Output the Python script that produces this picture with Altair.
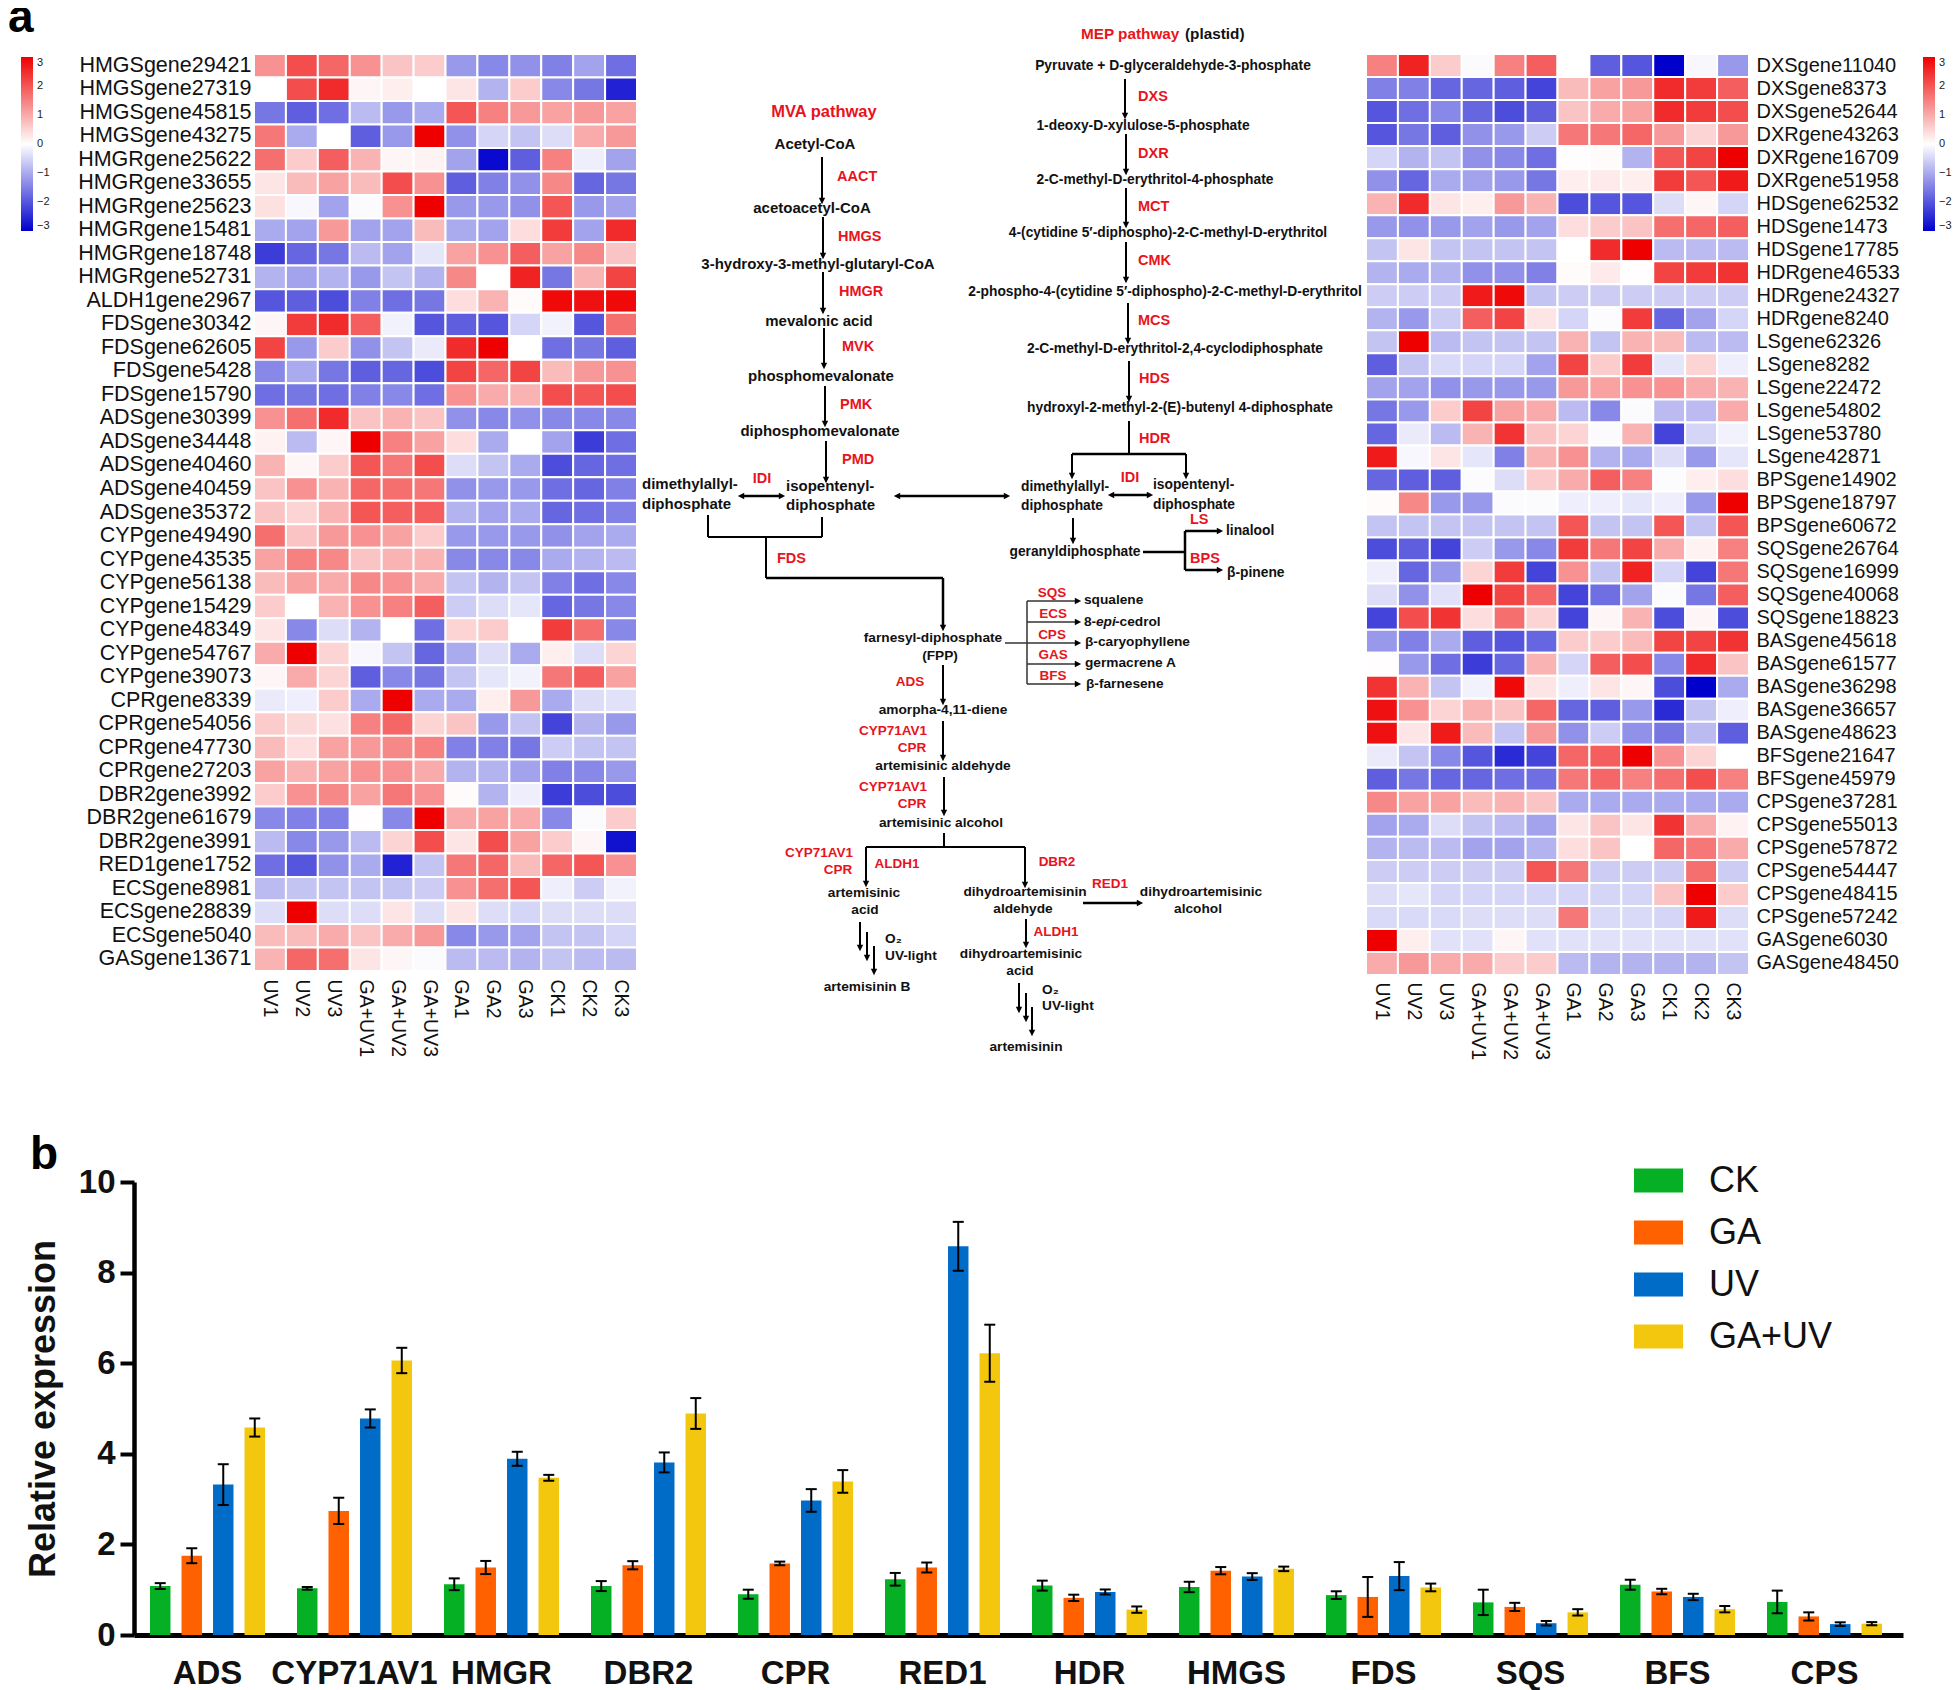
import altair as alt
import pandas as pd

conditions = ["UV1","UV2","UV3","GA+UV1","GA+UV2","GA+UV3","GA1","GA2","GA3","CK1","CK2","CK3"]

left_genes = ["HMGSgene29421","HMGSgene27319","HMGSgene45815","HMGSgene43275","HMGRgene25622","HMGRgene33655","HMGRgene25623","HMGRgene15481","HMGRgene18748","HMGRgene52731","ALDH1gene2967","FDSgene30342","FDSgene62605","FDSgene5428","FDSgene15790","ADSgene30399","ADSgene34448","ADSgene40460","ADSgene40459","ADSgene35372","CYPgene49490","CYPgene43535","CYPgene56138","CYPgene15429","CYPgene48349","CYPgene54767","CYPgene39073","CPRgene8339","CPRgene54056","CPRgene47730","CPRgene27203","DBR2gene3992","DBR2gene61679","DBR2gene3991","RED1gene1752","ECSgene8981","ECSgene28839","ECSgene5040","GASgene13671"]
left_values = [
[1.3,2.1,1.8,1.3,.7,.6,-1.2,-1.4,-1.3,-1.5,-1.1,-1.7],
[0,2.1,2.5,.1,.2,0,.3,-.9,.6,-1.4,-1.6,-2.6],
[-1.6,-1.9,-1.7,-.8,-1.2,-1,2.0,1.5,1.2,1.1,1.2,1.1],
[1.6,-1,0,-1.9,-1.2,3,-1.3,-.5,-.7,-.4,1,1.2],
[1.7,.6,1.9,.9,.1,.15,-1.1,-2.9,-1.9,1.5,-.2,-1.1],
[.3,.8,1.1,.8,2.1,1.3,-1.9,-1.5,-1.3,1.4,-1.8,-1.6],
[.35,-.1,-1.1,-.05,1.3,3,-1.2,-1.2,-1.3,2.0,-1.2,-1.1],
[-1,-1.1,1.2,-1.1,-1.1,.8,-1,-1.1,.4,2.3,-1.1,2.5],
[-2.3,-1.8,-1.6,-.8,-1.1,-.3,1.1,1.3,1.9,1.1,1.4,.7],
[-.9,-1.1,-.9,-1.2,-.7,-.9,1.4,0,2.6,-1.6,.9,2.2],
[-2.0,-1.9,-2.1,-1.5,-1.7,-1.6,.4,.9,.05,2.9,2.8,2.9],
[.1,2.3,2.5,1.9,-.15,-2,-1.9,-2,-.5,-.15,-2,1.7],
[2.2,-1.2,.6,-1.3,-.7,-.25,2.5,3,0,-1.7,-1.6,-1.9],
[-1.4,-1,-1.6,-1.9,-1.8,-2.1,2.2,1.8,2.2,.8,1.2,1.3],
[-1.7,-1.6,-1.7,-1.5,-1.4,-1.7,1.3,1,.9,2.1,2,2.1],
[1.3,1.7,2.5,.7,.9,.7,-1.3,-1.4,-1.3,-1.4,-1.4,-1.4],
[.15,-.8,.1,3,1.5,1.1,.4,-1,0,-1.1,-2.3,-1.7],
[.9,.1,.6,2,1.6,2.1,-.4,-.7,-1,-2.1,-1.8,-1.7],
[.7,1.3,.9,1.8,1.7,1.6,-1.3,-1.2,-1.2,-1.7,-1.8,-1.5],
[.7,.5,.9,2,1.9,1.9,-.9,-1.1,-1,-1.8,-1.7,-1.5],
[1.7,.7,1.2,1.3,1.1,.6,-1.2,-1.2,-1.2,-1.3,-1.1,-1],
[1.1,1.5,1.4,.7,.9,.9,-1.4,-1.4,-1.4,-1,-.9,-.8],
[.8,1.1,1,1.4,1.3,1,-.7,-.9,-.7,-1.5,-1.7,-1.4],
[.6,0,.9,1.3,1.5,1.9,-.6,-.4,-.3,-1.8,-1.6,-1.4],
[.3,-1.4,-.4,-.9,0,-1.7,.5,.6,0,2.3,1.7,-1.4],
[1,3,.5,-.1,-.7,-1.8,-1,-.4,-1,.2,-.4,.5],
[.1,1,.5,-1.9,-1.4,-1.6,-.7,-.3,-.15,1.6,1.9,1.1],
[-.25,-.2,.6,-1,3,-1,-1,.2,1.2,-1,-.4,-.35],
[.6,.45,.35,1.5,1.8,.5,.7,-1.2,-.7,-2.2,-.9,-1.2],
[.8,.4,1.1,1.2,1.4,1.5,-1.5,-1.5,-1.6,-.6,-.7,-.7],
[1.1,.9,1.1,1.3,1.3,1,-.9,-.9,-1.1,-1.5,-1.4,-1.2],
[.6,1.3,1.4,1.1,1.6,1.3,.05,-.9,-.2,-2.3,-2.1,-2.1],
[-1.4,-1.5,-1.5,.02,-1.4,3,1,1.1,1,-1.4,-.05,.6],
[-.8,-1.4,-1.2,-.8,.5,2.1,.3,2.1,1.1,.6,.1,-2.8],
[-1.7,-2,-1.3,-1,-2.6,-.7,1.6,1.8,.8,1.8,2,1.3],
[-.8,-.7,-.7,-.7,-.7,-.6,1.3,1.7,2,-.2,-.6,-.15],
[-.4,3,-.4,-.4,.3,-.4,.3,-.4,-.5,-.4,-.4,-.4],
[.8,.8,1,.7,1,1.2,-1.4,-1.2,-1.1,-.7,-.7,-.5],
[.9,1.8,1.7,.3,.1,-.05,-.8,-.8,-.9,-.7,-.8,-.8],
]

right_genes = ["DXSgene11040","DXSgene8373","DXSgene52644","DXRgene43263","DXRgene16709","DXRgene51958","HDSgene62532","HDSgene1473","HDSgene17785","HDRgene46533","HDRgene24327","HDRgene8240","LSgene62326","LSgene8282","LSgene22472","LSgene54802","LSgene53780","LSgene42871","BPSgene14902","BPSgene18797","BPSgene60672","SQSgene26764","SQSgene16999","SQSgene40068","SQSgene18823","BASgene45618","BASgene61577","BASgene36298","BASgene36657","BASgene48623","BFSgene21647","BFSgene45979","CPSgene37281","CPSgene55013","CPSgene57872","CPSgene54447","CPSgene48415","CPSgene57242","GASgene6030","GASgene48450"]
right_values = [
[1.5,2.6,.6,-.05,1.5,1.9,0,-1.9,-2,-3,-.1,-1.2],
[-1.5,-1.5,-1.8,-1.8,-1.9,-2.2,.8,1.1,1.2,2.5,2.3,1.9],
[-2.0,-1.7,-1.4,-1.8,-2.1,-1.9,.7,1,1.1,2.5,2.3,2.1],
[-2,-1.6,-1.9,-1.3,-1.2,-.6,1.6,1.6,1.8,1.2,.5,1.2],
[-.5,-.9,-.7,-1.3,-1.4,-1.7,.02,.05,-.9,2,2.2,3],
[-1.3,-1.8,-1,-1.1,-1.2,-1.6,.2,.25,.2,2.3,2,2.7],
[.9,2.5,.3,.2,1.2,.9,-2.1,-2,-2,-.4,.1,-.5],
[-1.2,-1.3,-1.2,-1.1,-1.2,-1.1,.4,.6,.7,1.7,1.8,1.9],
[-.7,.3,-.7,-.7,-.7,-.7,0,2.5,3,-.8,-.8,-.8],
[-.9,-1,-.9,-1.3,-1.3,-1.5,.05,.25,.02,2.2,2.3,2.4],
[-.6,-.6,-.6,2.7,2.9,-.7,-.6,-.6,-.6,-.6,-.6,-.6],
[-.9,-1.2,-.6,1.9,2.2,.3,-.5,-.03,2.3,-1.8,-1.1,-.5],
[-.7,3,-.8,-.7,-.7,-.7,.9,-.7,.9,.8,-.8,-.8],
[-1.9,-.7,-.45,-.5,-.5,-1.1,2.2,.6,2.3,-.3,.5,-.2],
[-1.1,-1.1,-1.3,-1.2,-1.2,-1.2,1.2,1.1,1.3,1.3,1,.9],
[-1.6,-1.2,.6,2.2,1.1,1,-.8,-1.4,-.05,-.8,-.8,1],
[-1.8,-.25,-.8,.9,2.4,.7,.5,-.05,.9,-2.2,-.5,-.15],
[2.7,-.1,.3,-.3,-1.5,.9,1.3,-.9,-1,-.4,-1.2,-.3],
[-1.8,-1.9,-1.9,-.03,-.4,.6,1,1.9,1.5,-.03,.2,.4],
[.05,1.4,-1.2,-1.2,-.05,-.05,-.2,-.2,-.3,-.2,-1.2,3],
[-.7,-.7,-.7,-.7,-.7,-.7,2,-.7,-.7,2,-.7,2],
[-2.1,-1.9,-2.2,-.6,-1.2,-1.4,2.3,1.6,2.2,1,.15,1.5],
[-.2,-1.8,-1.2,.5,2.3,-2.2,1.3,-.7,2.6,-.5,-2.2,1.6],
[-.4,-1.3,-.35,3,2.2,1.8,-2.2,-1.7,-1.1,-.05,-1.6,1.9],
[-2.2,2.1,2.4,.4,1.7,.5,-2.2,.1,.9,-2.1,.1,-2.1],
[-1.2,-1.5,-1,-1.9,-2,-1.8,.6,.6,.8,2.2,2.2,2.4],
[.02,-1.2,-1.7,-2.3,-1.8,.9,-.5,1.9,2.1,-1.4,2.5,.7],
[2.4,.9,-.7,-.15,2.9,.3,-.2,.3,.1,-2.1,-3,-1],
[2.8,1.3,.5,.9,.7,1.8,-1.8,-1.9,-1.2,-2.5,-.7,-.2],
[2.8,.3,2.7,.8,-.7,1.2,-1.3,-.6,-1.3,-1.6,-.8,-1.9],
[-.25,-.7,-1.4,-2,-2.5,-2.2,1.8,1.9,3,1.3,.5,0],
[-1.9,-1.6,-1.8,-1.8,-1.7,-1.7,1.6,1.8,1.5,1.7,2.1,1.5],
[1.4,1.1,1.1,.8,.9,.7,-1,-1,-1,-1,-1,-1],
[-1.1,-1,-.4,-.7,-.8,-1.1,.3,.7,.3,2.4,1,.15],
[-.9,-.8,-.8,-1.1,-1.1,-.9,.4,.7,0,1.8,1.6,1],
[-.6,-.6,-.6,-.6,-.6,2,1.6,-.6,-.6,-.6,1.7,-.6],
[-.4,-.3,-.5,-.5,-.5,-.5,-.5,-.5,-.5,.7,3,.6],
[-.45,-.45,-.45,-.4,-.4,-.4,1.6,-.45,-.45,-.5,2.7,-.4],
[3,.2,-.35,-.35,.1,-.35,-.35,-.35,-.35,-.35,-.35,-.35],
[1,1.2,1,1,.6,.6,-.8,-.9,-.9,-.9,-.9,-.7],
]

genes = ["ADS","CYP71AV1","HMGR","DBR2","CPR","RED1","HDR","HMGS","FDS","SQS","BFS","CPS"]
treatments = ["CK","GA","UV","GA+UV"]
ck_mean  = [1.08,1.03,1.12,1.08,.90,1.23,1.09,1.06,.88,.72,1.11,.73]
ck_err   = [.065,.03,.13,.11,.10,.14,.11,.115,.085,.28,.11,.25]
ga_mean  = [1.75,2.74,1.49,1.54,1.58,1.49,.82,1.42,.84,.62,.96,.41]
ga_err   = [.165,.29,.145,.09,.04,.11,.07,.08,.44,.09,.06,.09]
uv_mean  = [3.32,4.78,3.89,3.81,2.97,8.58,.95,1.29,1.30,.26,.84,.24]
uv_err   = [.45,.20,.155,.22,.25,.54,.055,.075,.31,.05,.07,.04]
gu_mean  = [4.58,6.06,3.47,4.89,3.39,6.22,.56,1.46,1.05,.50,.57,.25]
gu_err   = [.20,.28,.065,.34,.25,.63,.07,.05,.085,.07,.07,.035]

# pathway diagram: label, x, y, style, align
pathway_labels = [
("a",8,32,"panel","left"),
("MVA pathway",824,112,"title_red","center"),
("MEP pathway",1081,34,"head_red","left"),("(plastid)",1185,34,"head_black","left"),
("Acetyl-CoA",815,144,"mb","center"),("AACT",837,177,"nr","left"),
("acetoacetyl-CoA",812,208,"mb","center"),("HMGS",838,237,"nr","left"),
("3-hydroxy-3-methyl-glutaryl-CoA",818,264,"mb","center"),("HMGR",839,292,"nr","left"),
("mevalonic acid",819,321,"mb","center"),("MVK",842,347,"nr","left"),
("phosphomevalonate",821,376,"mb","center"),("PMK",840,405,"nr","left"),
("diphosphomevalonate",820,431,"mb","center"),("PMD",842,460,"nr","left"),
("dimethylallyl-",642,484,"mb","left"),("diphosphate",642,504,"mb","left"),
("IDI",762,479,"nr","center"),("isopentenyl-",786,486,"mb","left"),("diphosphate",786,505,"mb","left"),
("FDS",777,559,"nr","left"),
("Pyruvate + D-glyceraldehyde-3-phosphate",1173,66,"nb","center"),("DXS",1138,97,"nr","left"),
("1-deoxy-D-xylulose-5-phosphate",1143,126,"nb","center"),("DXR",1138,154,"nr","left"),
("2-C-methyl-D-erythritol-4-phosphate",1155,180,"nb","center"),("MCT",1138,207,"nr","left"),
("4-(cytidine 5′-diphospho)-2-C-methyl-D-erythritol",1168,233,"nb","center"),("CMK",1138,261,"nr","left"),
("2-phospho-4-(cytidine 5′-diphospho)-2-C-methyl-D-erythritol",1165,292,"nb","center"),("MCS",1138,321,"nr","left"),
("2-C-methyl-D-erythritol-2,4-cyclodiphosphate",1175,349,"nb","center"),("HDS",1139,379,"nr","left"),
("hydroxyl-2-methyl-2-(E)-butenyl 4-diphosphate",1180,408,"nb","center"),("HDR",1139,439,"nr","left"),
("dimethylallyl-",1021,487,"nb","left"),("diphosphate",1021,506,"nb","left"),
("IDI",1130,478,"nr","center"),("isopentenyl-",1153,485,"nb","left"),("diphosphate",1153,505,"nb","left"),
("LS",1190,520,"nr","left"),("linalool",1226,531,"nb","left"),
("geranyldiphosphate",1075,552,"nb","center"),("BPS",1190,559,"nr","left"),("β-pinene",1227,573,"nb","left"),
("SQS",1052,593,"sr","center"),("squalene",1084,600,"sb","left"),
("ECS",1053,614,"sr","center"),("8-",1084,622,"sb","left"),("epi",1096,622,"si","left"),("-cedrol",1115,622,"sb","left"),
("CPS",1052,635,"sr","center"),("β-caryophyllene",1085,642,"sb","left"),
("GAS",1053,655,"sr","center"),("germacrene A",1085,663,"sb","left"),
("BFS",1053,676,"sr","center"),("β-farnesene",1086,684,"sb","left"),
("farnesyl-diphosphate",933,638,"sb","center"),("(FPP)",940,656,"sb","center"),
("ADS",910,682,"sr","center"),("amorpha-4,11-diene",943,710,"sb","center"),
("CYP71AV1",893,731,"sr","center"),("CPR",912,748,"sr","center"),("artemisinic aldehyde",943,766,"sb","center"),
("CYP71AV1",893,787,"sr","center"),("CPR",912,804,"sr","center"),("artemisinic alcohol",941,823,"sb","center"),
("CYP71AV1",819,853,"sr","center"),("CPR",838,870,"sr","center"),("ALDH1",897,864,"sr","center"),("DBR2",1057,862,"sr","center"),
("artemisinic",864,893,"sb","center"),("acid",865,910,"sb","center"),
("dihydroartemisinin",1025,892,"sb","center"),("aldehyde",1023,909,"sb","center"),("RED1",1110,884,"sr","center"),
("dihydroartemisinic",1201,892,"sb","center"),("alcohol",1198,909,"sb","center"),("ALDH1",1056,932,"sr","center"),
("dihydroartemisinic",1021,954,"sb","center"),("acid",1020,971,"sb","center"),
("O₂",885,939,"sb","left"),("UV-light",885,956,"sb","left"),("artemisinin B",867,987,"sb","center"),
("O₂",1042,990,"sb","left"),("UV-light",1042,1006,"sb","left"),("artemisinin",1026,1047,"sb","center"),
]
# connector: x, y, x2, y2, line width
pathway_lines = [
(822,157,822,199,2),(823,217,823,254,2),(823,272,823,309,2),(824,328,824,364,2),(825,386,825,422,2),(826,441,826,478,2),
(1125,79,1125,114,2),(1126,134,1126,170,2),(1126,188,1126,223,2),(1126,242,1126,278,2),(1128,303,1128,339,2),(1129,361,1129,397,2),
(1129,421,1129,454,2),(1072,454,1186,454,2.5),(1072,454,1072,474,2),(1186,454,1186,474,2),
(743,496,780,496,2.5),(899,496,1005,496,2.5),(1113,495,1148,495,2.5),
(1073,518,1073,539,2),(1143,552,1185,552,2.5),(1185,531,1185,570,2.5),(1185,531,1218,531,2.5),(1185,570,1218,570,2.5),
(708,515,708,537,2),(708,537,822,537,2),(822,517,822,537,2),(766,537,766,578,2),(766,578,943,578,2.5),(943,578,943,626,2.5),
(943,665,943,700,2),(943,721,943,756,2),(944,777,944,811,2),(944,833,944,847,2),(866,847,1025,847,2),
(866,847,866,882,2),(1025,847,1025,883,2),(1083,903,1138,903,2.5),(1026,919,1026,943,2),
(860,922,860,946,2),(867,932,867,956,2),(874,946,874,970,2),(1019,983,1019,1008,2),(1026,993,1026,1017,2),(1032,1007,1032,1031,2),
(1005,643,1027,643,1.5),(1027,601,1027,684,1.5),(1027,601,1076,601,1.5),(1027,622,1076,622,1.5),(1027,643,1076,643,1.5),(1027,664,1076,664,1.5),(1027,684,1076,684,1.5),
]
heads_down = [(822,201),(823,256),(823,311),(824,366),(825,424),(826,480),(1125,116),(1126,172),(1126,225),(1126,280),(1128,341),(1129,399),(1072,476),(1186,476),(1073,541),(943,628),(943,702),(943,758),(944,813),(866,884),(1025,885),(1026,945),(860,948),(867,958),(874,972),(1019,1010),(1026,1019),(1032,1033)]
heads_right = [(782,496),(1007,496),(1150,495),(1220,531),(1220,570),(1140,903),(1078,601),(1078,622),(1078,643),(1078,664),(1078,684)]
heads_left = [(741,496),(897,496),(1111,495)]

FONT = "Liberation Sans"
RED = "#E8141C"
Y_TITLE = "Relative expression"

def heat_long(gene_names, matrix):
    rows = []
    for g, vals in zip(gene_names, matrix):
        for c, v in zip(conditions, vals):
            rows.append({"gene": g, "cond": c, "z": v})
    return pd.DataFrame(rows)

def heatmap(gene_names, matrix, w, h, orient, label_size, lx, x_pad, y_pad):
    color = alt.Color("z:Q", title=None,
        scale=alt.Scale(domain=[-3,0,3], range=["#0000CD","#FFFFFF","#EE0000"], interpolate="rgb"),
        legend=alt.Legend(orient="none", legendX=lx, legendY=3, gradientLength=174, gradientThickness=12,
                          values=[3,2,1,0,-1,-2,-3], labelFontSize=11, labelFont=FONT, labelColor="#222222",
                          labelOffset=4, gradientStrokeWidth=0, labelOverlap=False, tickCount=7))
    return alt.Chart(heat_long(gene_names, matrix)).mark_rect(stroke="white", strokeWidth=2).encode(
        x=alt.X("cond:N", sort=conditions, title=None, scale=alt.Scale(paddingInner=0, paddingOuter=0),
                axis=alt.Axis(labelAngle=90, ticks=False, domain=False, labelFont=FONT, labelFontSize=19.5,
                              labelColor="#111111", labelPadding=x_pad, labelOverlap=False, labelLimit=200)),
        y=alt.Y("gene:N", sort=gene_names, title=None, scale=alt.Scale(paddingInner=0, paddingOuter=0),
                axis=alt.Axis(orient=orient, ticks=False, domain=False, labelFont=FONT, labelFontSize=label_size,
                              labelColor="#111111", labelPadding=y_pad, labelOverlap=False, labelLimit=300)),
        color=color,
    ).properties(width=w, height=h)

left_heat = heatmap(left_genes, left_values, 383, 917, "left", 21.5, -233, 8, 3)
right_heat = heatmap(right_genes, right_values, 383, 921, "right", 20, 557, 7, 7)

# pathway diagram panel: its scales run over the figure's own coordinates
xs = alt.Scale(domain=[640,1363], nice=False, zero=False)
ys = alt.Scale(domain=[974,54], nice=False, zero=False)
styles = {
 "panel": dict(font=FONT, fontWeight="bold", fontSize=46, color="black"),
 "title_red": dict(font=FONT, fontWeight="bold", fontSize=16.5, color=RED),
 "head_red": dict(font=FONT, fontWeight="bold", fontSize=15.3, color=RED),
 "head_black": dict(font=FONT, fontWeight="bold", fontSize=15.3, color="#111111"),
 "mb": dict(font=FONT, fontWeight="bold", fontSize=15, color="#111111"),
 "nb": dict(font=FONT, fontWeight="bold", fontSize=13.8, color="#111111"),
 "nr": dict(font=FONT, fontWeight="bold", fontSize=14.5, color=RED),
 "sb": dict(font=FONT, fontWeight="bold", fontSize=13.7, color="#111111"),
 "si": dict(font=FONT, fontWeight="bold", fontStyle="italic", fontSize=13.7, color="#111111"),
 "sr": dict(font=FONT, fontWeight="bold", fontSize=13.5, color=RED),
}
lab = pd.DataFrame(pathway_labels, columns=["t","x","y","style","align"])
path_layers = []
for (st, al), sub in lab.groupby(["style","align"]):
    path_layers.append(alt.Chart(sub).mark_text(align=al, baseline="alphabetic" if st=="panel" else "middle", **styles[st]).encode(
        x=alt.X("x:Q", scale=xs, axis=None), y=alt.Y("y:Q", scale=ys, axis=None), text="t:N"))
lines = pd.DataFrame(pathway_lines, columns=["x","y","x2","y2","w"])
for w, sub in lines.groupby("w"):
    path_layers.append(alt.Chart(sub).mark_rule(color="black" if w>1.5 else "#333333", strokeWidth=float(w)).encode(
        x=alt.X("x:Q", scale=xs, axis=None), y=alt.Y("y:Q", scale=ys, axis=None), x2="x2:Q", y2="y2:Q"))
for pts, shape in [(heads_down,"M-1,-1L1,-1L0,1Z"),(heads_right,"M-1,-1L1,0L-1,1Z"),(heads_left,"M1,-1L-1,0L1,1Z")]:
    path_layers.append(alt.Chart(pd.DataFrame(pts, columns=["x","y"])).mark_point(shape=shape, filled=True, color="black", size=40, opacity=1).encode(
        x=alt.X("x:Q", scale=xs, axis=None), y=alt.Y("y:Q", scale=ys, axis=None)))
center = alt.layer(*path_layers).properties(width=723, height=920)

spacer = alt.Chart(pd.DataFrame({"v":[0]})).mark_rule(opacity=0).encode(x=alt.value(0), y=alt.value(0)).properties(width=117, height=915)

# bar panel
rows = []
for tr, means, errs in [("CK",ck_mean,ck_err),("GA",ga_mean,ga_err),("UV",uv_mean,uv_err),("GA+UV",gu_mean,gu_err)]:
    for g, m, e in zip(genes, means, errs):
        rows.append({"gene":g,"tr":tr,"m":m,"lo":m-e,"hi":m+e})
bar_df = pd.DataFrame(rows)
bx = alt.X("gene:N", sort=genes, title=None, scale=alt.Scale(paddingInner=0, paddingOuter=0.017, align=0),
           axis=alt.Axis(ticks=False, labelAngle=0, domainWidth=5, domainColor="black", labelFont=FONT, labelFontWeight="bold",
                         labelFontSize=33, labelColor="#111111", labelPadding=22, labelOverlap=False, labelLimit=300))
bo = alt.XOffset("tr:N", sort=treatments, scale=alt.Scale(paddingInner=0.35, paddingOuter=0.508))
by = alt.Y("m:Q", title=Y_TITLE, scale=alt.Scale(domain=[0,10], nice=False),
           axis=alt.Axis(values=[0,2,4,6,8,10], grid=False, domainWidth=4.5, domainColor="black", tickWidth=4, tickColor="black", tickSize=14,
                         labelFont=FONT, labelFontWeight="bold", labelFontSize=33, labelColor="#111111", labelPadding=5, format="d",
                         titleFont=FONT, titleFontWeight="bold", titleFontSize=36, titleColor="#111111", titlePadding=16))
bars = alt.Chart(bar_df).mark_bar().encode(x=bx, xOffset=bo, y=by,
    color=alt.Color("tr:N", sort=treatments, title=None,
        scale=alt.Scale(domain=treatments, range=["#06B025","#FF6100","#006CC8","#F4C70F"]),
        legend=alt.Legend(orient="none", legendX=1500, legendY=-26, symbolType="M-1,-0.49H1V0.49H-1Z", symbolSize=2401,
                          symbolStrokeWidth=0, labelFont=FONT, labelFontSize=36, labelColor="#111111", labelOffset=26, rowPadding=9)))
err = alt.Chart(bar_df).mark_rule(color="black", strokeWidth=2).encode(x=bx, xOffset=bo, y=alt.Y("lo:Q", title=Y_TITLE), y2="hi:Q")
cap_lo = alt.Chart(bar_df).mark_tick(orient="horizontal", color="black", size=11, thickness=2, opacity=1).encode(x=bx, xOffset=bo, y=alt.Y("lo:Q", title=Y_TITLE))
cap_hi = alt.Chart(bar_df).mark_tick(orient="horizontal", color="black", size=11, thickness=2, opacity=1).encode(x=bx, xOffset=bo, y=alt.Y("hi:Q", title=Y_TITLE))
b_label = alt.Chart(pd.DataFrame({"t":["b"]})).mark_text(font=FONT, fontWeight="bold", fontSize=46, align="center", baseline="alphabetic", color="black").encode(
    x=alt.value(-90), y=alt.value(-13), text="t:N")
bar_panel = alt.layer(bars, err, cap_lo, cap_hi, b_label).properties(width=1769, height=453)

top = alt.hconcat(spacer, left_heat, center, right_heat, spacing=3, bounds="flush").resolve_scale(color="independent")
chart = alt.vconcat(top, bar_panel, spacing=1128, bounds="flush").resolve_scale(color="independent").properties(
    padding={"left":0,"top":-13,"right":0,"bottom":0}
).configure_view(stroke=None)

chart.save("out.html", embed_options={"renderer": "svg", "actions": False})
